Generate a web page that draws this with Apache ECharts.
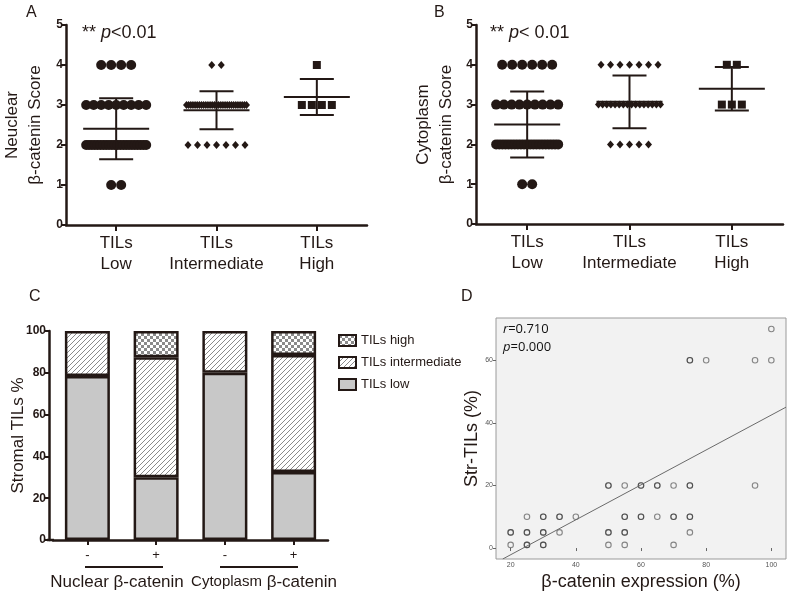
<!DOCTYPE html>
<html><head><meta charset="utf-8">
<script src="https://cdn.jsdelivr.net/npm/echarts@6/dist/echarts.min.js"></script>
<style>html,body{margin:0;padding:0;background:#fff}#c{width:787px;height:594px}</style>
</head><body><div id="c"></div>
<script>
// ---------- Panels A / B ----------
const groupCategories = ['TILs\nLow', 'TILs\nIntermediate', 'TILs\nHigh'];
const scoreLevels = [1, 2, 3, 4];
// number of cases at score 1,2,3,4
const nuclearLowCounts = [2, 22, 9, 4];
const nuclearIntCounts = [0, 7, 29, 2];
const nuclearHighCounts = [0, 0, 4, 1];
const cytoLowCounts = [2, 21, 9, 6];
const cytoIntCounts = [0, 5, 16, 7];
const cytoHighCounts = [0, 0, 3, 2];

// ---------- Panel C ----------
const barCategories = ['-', '+', '-', '+'];
const tilsLow = [78.5, 30, 80, 32.5];
const tilsIntermediate = [21.5, 57.5, 20, 56];
const tilsHigh = [0, 12.5, 0, 11.5];

// ---------- Panel D ----------
const expressionX = [100, 75, 75, 80, 95, 100,
  50, 50, 55, 60, 60, 65, 65, 70, 75, 75, 95,
  25, 30, 30, 35, 35, 40, 55, 55, 60, 60, 65, 70, 70, 75, 75,
  20, 20, 25, 25, 30, 30, 35, 50, 50, 55, 55, 75,
  20, 25, 25, 30, 30, 50, 55, 70];
const strTilsY = [70, 60, 60, 60, 60, 60,
  20, 20, 20, 20, 20, 20, 20, 20, 20, 20, 20,
  10, 10, 10, 10, 10, 10, 10, 10, 10, 10, 10, 10, 10, 10, 10,
  5, 5, 5, 5, 5, 5, 5, 5, 5, 5, 5, 5,
  1, 1, 1, 1, 1, 1, 1, 1];
const fitSlope = 0.558;
const fitIntercept = -13.3;
const dXTicks = [20, 40, 60, 80, 100];
const dYTicks = [0, 20, 40, 60];

const DARK = '#231815';
const FONT = 'Arial, "Liberation Sans", sans-serif';

function expand(counts) {
  const v = [];
  counts.forEach((n, k) => { for (let i = 0; i < n; i++) v.push(scoreLevels[k]); });
  return v;
}
function stats(counts) {
  const v = expand(counts);
  const n = v.length;
  const m = v.reduce((a, b) => a + b, 0) / n;
  const sd = Math.sqrt(v.reduce((a, b) => a + (b - m) * (b - m), 0) / (n - 1));
  return [m, sd];
}
function swarm(counts, cat, step, maxW) {
  const out = [];
  counts.forEach((n, k) => {
    const s = n > 1 ? Math.min(step, maxW / (n - 1)) : 0;
    for (let i = 0; i < n; i++) {
      out.push({ value: [cat, scoreLevels[k]], symbolOffset: [s * (i - (n - 1) / 2), 0] });
    }
  });
  return out;
}
function errRender(params, api) {
  const x = api.value(0), m = api.value(1), sd = api.value(2);
  const c = api.coord([x, m]);
  const t = api.coord([x, m + sd]);
  const b = api.coord([x, m - sd]);
  const st = { stroke: DARK, lineWidth: 2 };
  return { type: 'group', children: [
    { type: 'line', shape: { x1: c[0] - 33, y1: c[1], x2: c[0] + 33, y2: c[1] }, style: st },
    { type: 'line', shape: { x1: c[0], y1: t[1], x2: c[0], y2: b[1] }, style: st },
    { type: 'line', shape: { x1: c[0] - 17, y1: t[1], x2: c[0] + 17, y2: t[1] }, style: st },
    { type: 'line', shape: { x1: c[0] - 17, y1: b[1], x2: c[0] + 17, y2: b[1] }, style: st }
  ] };
}

function hatchCanvas() {
  const s = 5, cv = document.createElement('canvas');
  cv.width = s; cv.height = s;
  const g = cv.getContext('2d');
  g.fillStyle = '#fff'; g.fillRect(0, 0, s, s);
  g.strokeStyle = '#8a8a8a'; g.lineWidth = 1;
  g.beginPath();
  g.moveTo(0, s); g.lineTo(s, 0);
  g.moveTo(-1, 1); g.lineTo(1, -1);
  g.moveTo(s - 1, s + 1); g.lineTo(s + 1, s - 1);
  g.stroke();
  return cv;
}
function checkCanvas() {
  const c = 3, cv = document.createElement('canvas');
  cv.width = 2 * c; cv.height = 2 * c;
  const g = cv.getContext('2d');
  g.fillStyle = '#fff'; g.fillRect(0, 0, 2 * c, 2 * c);
  g.fillStyle = '#8a8a8a';
  g.fillRect(0, 0, c, c); g.fillRect(c, c, c, c);
  return cv;
}

function scoreYAxis(gi, name, gap) {
  return {
    type: 'value', gridIndex: gi, min: 0, max: 5, interval: 1,
    name: name, nameLocation: 'middle', nameGap: gap,
    nameTextStyle: { fontSize: 17, lineHeight: 23, color: DARK, fontFamily: FONT },
    axisLine: { show: true, lineStyle: { color: DARK, width: 2.5 } },
    axisTick: { show: true, length: 5, lineStyle: { color: DARK, width: 2 } },
    axisLabel: { fontSize: 12, fontWeight: 'bold', color: DARK, margin: 3, fontFamily: FONT },
    splitLine: { show: false }
  };
}
function groupXAxis(gi) {
  return {
    type: 'category', gridIndex: gi, data: groupCategories, boundaryGap: true,
    axisLine: { show: true, lineStyle: { color: DARK, width: 2.5 } },
    axisTick: { show: true, alignWithLabel: true, length: 6, lineStyle: { color: DARK, width: 2 } },
    axisLabel: { fontSize: 17, lineHeight: 21, color: DARK, margin: 8, fontFamily: FONT, interval: 0 }
  };
}
function scoreSeries(gi, lowC, intC, highC, maxW) {
  const st = { color: DARK, opacity: 1 };
  return [
    { type: 'scatter', xAxisIndex: gi, yAxisIndex: gi, symbol: 'circle', symbolSize: 10,
      itemStyle: st, data: swarm(lowC, 0, 10, maxW) },
    { type: 'scatter', xAxisIndex: gi, yAxisIndex: gi, symbol: 'diamond', symbolSize: [7, 8],
      itemStyle: st, data: swarm(intC, 1, 9.5, maxW) },
    { type: 'scatter', xAxisIndex: gi, yAxisIndex: gi, symbol: 'rect', symbolSize: 8,
      itemStyle: st, data: swarm(highC, 2, 10, maxW) },
    { type: 'custom', xAxisIndex: gi, yAxisIndex: gi, renderItem: errRender, z: 5,
      encode: { x: 0, y: 1 },
      data: [[0].concat(stats(lowC)), [1].concat(stats(intC)), [2].concat(stats(highC))] }
  ];
}

const chart = echarts.init(document.getElementById('c'), null, { renderer: 'canvas' });
const hatch = { image: hatchCanvas(), repeat: 'repeat' };
const check = { image: checkCanvas(), repeat: 'repeat' };
const barBorder = { borderColor: DARK, borderWidth: 2.5, opacity: 1 };
const noZero = arr => arr.map(v => (v === 0 ? '-' : v));

const fx0 = (-3.5 - fitIntercept) / fitSlope, fx1 = 104.5;

const option = {
  animation: false,
  backgroundColor: '#fff',
  textStyle: { fontFamily: FONT },
  grid: [
    { left: 63, top: 25, width: 304, height: 200 },
    { left: 476, top: 25, width: 307, height: 199 },
    { left: 53, top: 331, width: 275, height: 209 },
    { left: 496, top: 318, width: 290, height: 241, show: true, backgroundColor: '#f2f2f2', borderColor: '#9a9a9a', borderWidth: 1 }
  ],
  xAxis: [
    groupXAxis(0),
    groupXAxis(1),
    { type: 'category', gridIndex: 2, data: barCategories,
      axisLine: { show: true, lineStyle: { color: DARK, width: 2.5 } },
      axisTick: { show: true, alignWithLabel: true, length: 5, lineStyle: { color: DARK, width: 2 } },
      axisLabel: { fontSize: 13, color: DARK, margin: 9, fontFamily: FONT } },
    { type: 'value', gridIndex: 3, min: 15.5, max: 104.5,
      name: 'β-catenin expression (%)', nameLocation: 'middle', nameGap: 14,
      nameTextStyle: { fontSize: 18, color: DARK, fontFamily: FONT },
      axisLine: { show: false },
      axisTick: { show: true, length: 3, customValues: dXTicks, lineStyle: { color: '#666' } },
      axisLabel: { fontSize: 7, color: '#555', margin: 3, customValues: dXTicks },
      splitLine: { show: false } }
  ],
  yAxis: [
    scoreYAxis(0, 'Neuclear\nβ-catenin Score', 19),
    scoreYAxis(1, 'Cytoplasm\nβ-catenin Score', 18),
    { type: 'value', gridIndex: 2, min: 0, max: 100, interval: 20, offset: 4,
      name: 'Stromal TILs %', nameLocation: 'middle', nameGap: 22, nameMoveOverlap: false,
      nameTextStyle: { fontSize: 17, color: DARK, fontFamily: FONT },
      axisLine: { show: true, lineStyle: { color: DARK, width: 2.5 } },
      axisTick: { show: true, length: 5, lineStyle: { color: DARK, width: 2 } },
      axisLabel: { fontSize: 12, fontWeight: 'bold', color: DARK, margin: 3, fontFamily: FONT },
      splitLine: { show: false } },
    { type: 'value', gridIndex: 3, min: -3.5, max: 73.5,
      name: 'Str-TILs (%)', nameLocation: 'middle', nameGap: 15,
      nameTextStyle: { fontSize: 18, color: DARK, fontFamily: FONT },
      axisLine: { show: false },
      axisTick: { show: true, length: 3, customValues: dYTicks, lineStyle: { color: '#666' } },
      axisLabel: { fontSize: 7, color: '#555', margin: 3, customValues: dYTicks },
      splitLine: { show: false } }
  ],
  legend: {
    orient: 'vertical', left: 333, top: 329, itemWidth: 17, itemHeight: 11, itemGap: 9,
    icon: 'rect',
    textStyle: { fontSize: 13, color: DARK, fontFamily: FONT },
    data: ['TILs high', 'TILs intermediate', 'TILs low']
  },
  series: [].concat(
    scoreSeries(0, nuclearLowCounts, nuclearIntCounts, nuclearHighCounts, 60),
    scoreSeries(1, cytoLowCounts, cytoIntCounts, cytoHighCounts, 62),
    [
      { name: 'TILs low', type: 'bar', xAxisIndex: 2, yAxisIndex: 2, stack: 'c', barWidth: 45,
        itemStyle: Object.assign({ color: '#c8c8c8' }, barBorder), data: noZero(tilsLow) },
      { name: 'TILs intermediate', type: 'bar', xAxisIndex: 2, yAxisIndex: 2, stack: 'c', barWidth: 45,
        itemStyle: Object.assign({ color: hatch }, barBorder), data: noZero(tilsIntermediate) },
      { name: 'TILs high', type: 'bar', xAxisIndex: 2, yAxisIndex: 2, stack: 'c', barWidth: 45,
        itemStyle: Object.assign({ color: check }, barBorder), data: noZero(tilsHigh) },
      { type: 'scatter', xAxisIndex: 3, yAxisIndex: 3, symbol: 'circle', symbolSize: 5.5,
        itemStyle: { color: 'rgba(0,0,0,0)', borderColor: 'rgba(25,25,25,0.5)', borderWidth: 1.1, opacity: 1 },
        data: expressionX.map((x, i) => [x, strTilsY[i]]) },
      { type: 'line', xAxisIndex: 3, yAxisIndex: 3, symbol: 'none', silent: true,
        lineStyle: { color: '#6a6a6a', width: 1 },
        data: [[fx0, fitSlope * fx0 + fitIntercept], [fx1, fitSlope * fx1 + fitIntercept]] }
    ]
  ),
  graphic: [
    { type: 'text', left: 26, top: 5, style: { text: 'A', fontSize: 16, fill: DARK, fontFamily: FONT } },
    { type: 'text', left: 434, top: 5, style: { text: 'B', fontSize: 16, fill: DARK, fontFamily: FONT } },
    { type: 'text', left: 29, top: 289, style: { text: 'C', fontSize: 16, fill: DARK, fontFamily: FONT } },
    { type: 'text', left: 461, top: 289, style: { text: 'D', fontSize: 16, fill: DARK, fontFamily: FONT } },
    { type: 'text', left: 82, top: 24, style: { text: '** {i|p}<0.01', fontSize: 18, fill: DARK, fontFamily: FONT,
      rich: { i: { fontStyle: 'italic', fontSize: 18, fill: DARK, fontFamily: FONT } } } },
    { type: 'text', left: 490, top: 24, style: { text: '** {i|p}< 0.01', fontSize: 18, fill: DARK, fontFamily: FONT,
      rich: { i: { fontStyle: 'italic', fontSize: 18, fill: DARK, fontFamily: FONT } } } },
    { type: 'line', shape: { x1: 47, y1: 540, x2: 54, y2: 540 }, style: { stroke: DARK, lineWidth: 2.5 } },
    { type: 'line', shape: { x1: 85, y1: 567, x2: 163, y2: 567 }, style: { stroke: DARK, lineWidth: 2 } },
    { type: 'line', shape: { x1: 220, y1: 567, x2: 298, y2: 567 }, style: { stroke: DARK, lineWidth: 2 } },
    { type: 'text', x: 117, y: 582, style: { text: 'Nuclear β-catenin', fontSize: 17, fill: DARK, fontFamily: FONT, align: 'center', verticalAlign: 'middle' } },
    { type: 'text', x: 264, y: 582, style: { text: '{s|Cytoplasm} β-catenin', fontSize: 17, fill: DARK, fontFamily: FONT, align: 'center', verticalAlign: 'middle',
      rich: { s: { fontSize: 15, fill: DARK, fontFamily: FONT } } } },
    { type: 'text', left: 503, top: 323, style: { text: '{i|r}=0.710', fontSize: 13, fill: '#111', fontFamily: '"Open Sans", sans-serif',
      rich: { i: { fontStyle: 'italic', fontSize: 13, fill: '#111', fontFamily: '"Open Sans", sans-serif' } } } },
    { type: 'text', left: 503, top: 341, style: { text: '{i|p}=0.000', fontSize: 13, fill: '#111', fontFamily: '"Open Sans", sans-serif',
      rich: { i: { fontStyle: 'italic', fontSize: 13, fill: '#111', fontFamily: '"Open Sans", sans-serif' } } } }
  ]
};
chart.setOption(option);
</script></body></html>
